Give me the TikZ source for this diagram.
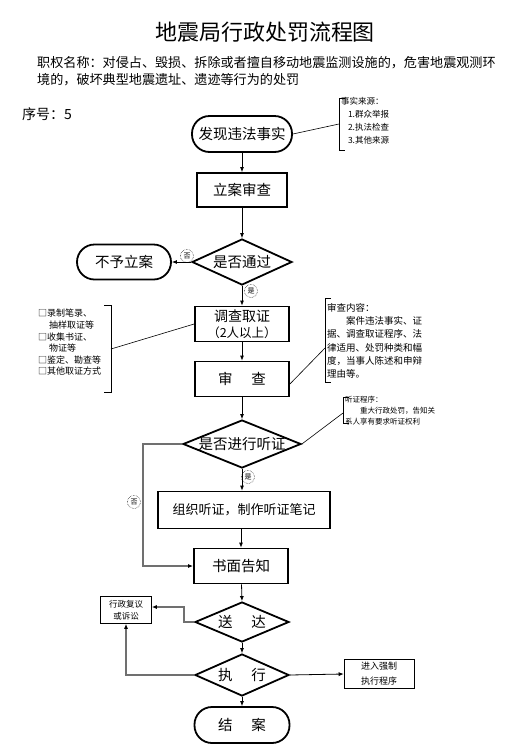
\documentclass[tikz,border=0pt]{standalone}
\usepackage{fontspec}
\setmainfont{Noto Sans CJK SC}
\usetikzlibrary{shapes.geometric,arrows.meta}
\newcommand{\fsz}[1]{\fontsize{#1}{#1}\selectfont}
\definecolor{lgray}{HTML}{707070}
\begin{document}
\begin{tikzpicture}[x=1pt,y=-1pt,
  mainbox/.style={draw, line width=1.8pt, inner sep=0pt, font=\fsz{14.5}, align=center},
  termbox/.style={mainbox, rounded corners=17.5pt},
  decbox/.style={diamond, draw, line width=1.8pt, inner sep=0pt},
  sidebox/.style={draw, line width=0.6pt, inner sep=0pt, align=center},
  arr/.style={line width=0.8pt, -{Latex[length=5pt,width=4pt]}},
  garr/.style={line width=1.3pt, draw=lgray, -{Latex[length=5pt,width=4pt,color=black]}},
  thin/.style={line width=0.6pt},
  tag/.style={circle, draw, densely dotted, line width=0.5pt, minimum size=13pt, inner sep=0pt, font=\fsz{7}},
  note/.style={anchor=north west, inner sep=0pt, align=left}
]
\useasboundingbox (0,0) rectangle (514,756);

% header
\node[font=\fsz{22}] (title) at (265,32) {地震局行政处罚流程图};
\node[anchor=west, inner sep=0pt, font=\fsz{13.1}] (desc1) at (37,63) {职权名称：对侵占、毁损、拆除或者擅自移动地震监测设施的，危害地震观测环};
\node[anchor=west, inner sep=0pt, font=\fsz{13.1}] (desc2) at (37,80) {境的，破坏典型地震遗址、遗迹等行为的处罚};
\node[anchor=west, inner sep=0pt, font=\fsz{14}] (seq) at (22,114) {序号：5};

% main flow
\node[termbox, minimum width=100pt, minimum height=36pt] (start) at (242,134) {发现违法事实};
\node[mainbox, minimum width=90pt, minimum height=34pt] (lian) at (242,190) {立案审查};
\node[decbox, minimum width=100pt, minimum height=46pt, label={[font=\fsz{14.5}]center:是否通过}] (pass) at (242,262) {};
\node[termbox, minimum width=94pt, minimum height=35pt] (nolian) at (124,262) {不予立案};
\node[mainbox, minimum width=94pt, minimum height=35pt] (inv) at (242,324) {\fsz{14}调查取证\\[2pt]\fsz{12.5}（2人以上）};
\node[mainbox, minimum width=94pt, minimum height=35pt] (rev) at (242,379) {审\hspace{1.3em}查};
\node[decbox, minimum width=118pt, minimum height=48pt, label={[font=\fsz{14.5}]center:是否进行听证}] (hear) at (242,444) {};
\node[mainbox, minimum width=172pt, minimum height=37pt, font=\fsz{13}] (org) at (244,510) {组织听证，制作听证笔记};
\node[mainbox, minimum width=94pt, minimum height=35pt] (notice) at (241,566) {书面告知};
\node[decbox, minimum width=94pt, minimum height=40pt, label={[font=\fsz{14.5}]center:送\hspace{1.3em}达}] (deliver) at (242,622) {};
\node[decbox, minimum width=94pt, minimum height=42pt, label={[font=\fsz{14.5}]center:执\hspace{1.3em}行}] (exec) at (242,675) {};
\node[termbox, minimum width=95pt, minimum height=36pt] (close) at (242,725) {结\hspace{1.3em}案};

% side boxes
\node[sidebox, minimum width=51pt, minimum height=27pt, font=\fontsize{8.5}{12}\selectfont] (fy) at (126,610) {行政复议\\或诉讼};
\node[sidebox, minimum width=70pt, minimum height=29pt, font=\fontsize{9}{15}\selectfont] (qz) at (379,674) {进入强制\\执行程序};

% tags
\node[tag] (tno1) at (187,256) {否};
\node[tag] (tyes1) at (251,291) {是};
\node[tag] (tyes2) at (248,477) {是};
\node[tag] (tno2) at (134,502) {否};

% notes
\node[note, font=\fontsize{8.5}{13}\selectfont] (src) at (341,97) {事实来源：\\\hspace*{0.8em}1.群众举报\\\hspace*{0.8em}2.执法检查\\\hspace*{0.8em}3.其他来源};
\draw[thin] (345,98) -- (339,98) -- (339,150) -- (345,150);
\coordinate (srcin) at (339,124);

\node[note, font=\fontsize{9}{11.6}\selectfont] (evid) at (38,309) {□录制笔录、\\\hspace*{1.2em}抽样取证等\\□收集书证、\\\hspace*{1.2em}物证等\\□鉴定、勘查等\\□其他取证方式};
\draw[thin] (104,305) -- (111,305) -- (111,392) -- (104,392);
\coordinate (evidin) at (111,349);

\node[note, font=\fontsize{9.5}{13.3}\selectfont] (revnote) at (327,303) {审查内容：\\\hspace*{2em}案件违法事实、证\\据、调查取证程序、法\\律适用、处罚种类和幅\\度，当事人陈述和申辩\\理由等。};
\draw[thin] (331,298) -- (325,298) -- (325,382) -- (331,382);
\coordinate (revin) at (325,348);

\node[note, font=\fontsize{7.5}{11}\selectfont] (hearnote) at (345,396) {听证程序：\\\hspace*{2em}重大行政处罚，告知关\\系人享有要求听证权利};
\draw[thin] (349,397) -- (343,397) -- (343,423) -- (349,423);
\coordinate (hearin) at (343,413);

% connectors
\draw[arr] (start) -- (lian);
\draw[arr] (lian) -- (pass);
\draw[arr] (pass.west) -- (nolian.east);
\draw[arr] (pass.south) -- (inv.north);
\draw[arr] (inv) -- (rev);
\draw[arr] (rev.south) -- (hear.north);
\draw[arr] (hear.south) -- (org.north -| hear.south);
\draw[arr] (org.south -| notice.north) -- (notice.north);
\draw[garr] (hear.west) -- (143,444) |- (notice.west);
\draw[arr] (notice) -- (deliver.north);
\draw[arr] (deliver.south) -- (exec.north);
\draw[arr] (exec.south) -- (close.north);
\draw[garr] (deliver.west) -- ++(-10,0) |- ([yshift=3pt]fy.east);
\draw[garr] (exec.west) -| (fy.south);
\draw[arr] (exec.east) -- (qz.west);

\draw[thin] (start.east) -- (srcin);
\draw[thin] (evidin) -- (inv.west);
\draw[thin] ([yshift=-5pt]rev.east) -- (revin);
\draw[thin] (hear.east) -- (hearin);
\end{tikzpicture}
\end{document}
